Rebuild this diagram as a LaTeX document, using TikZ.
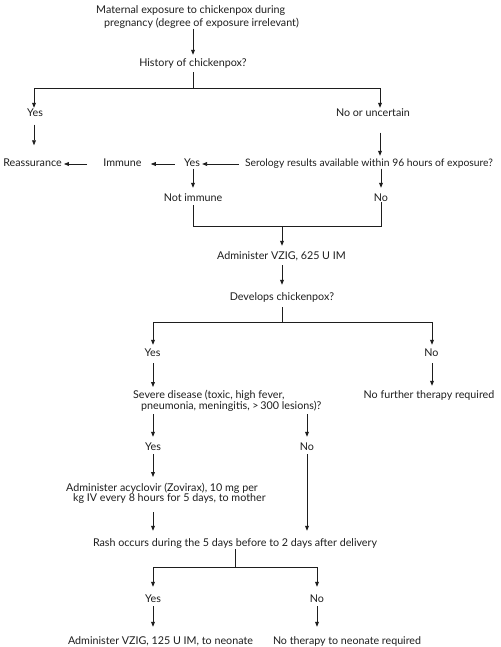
\documentclass[tikz,border=0pt]{standalone}
\usepackage{fontspec}
\setmainfont{Lato}
\usetikzlibrary{arrows.meta}
\definecolor{ink}{HTML}{1E1E1E}
\newlength\fitlen
\newcommand\fitsize[2]{\settowidth\fitlen{\fontsize{10}{12}\selectfont #2}\pgfmathsetmacro\fitsz{10*#1/\fitlen}\fontsize{\fitsz}{\fitsz}\selectfont}
\newcommand\fitto[2]{\fitsize{#1}{#2}#2}
\begin{document}
\settowidth\fitlen{\fontsize{10}{12}\selectfont Rash occurs during the 5 days before to 2 days after delivery}%
\pgfmathsetmacro\basesz{10*284/\fitlen}%
\begin{tikzpicture}[x=1pt,y=-1pt,
 lbl/.style={inner sep=0pt, font=\fontsize{\basesz}{\basesz}\selectfont, text=ink},
 one/.style={lbl, text height=7pt, text depth=2pt},
 arr/.style={draw=ink, line width=0.8pt, -{Triangle[length=5pt,width=3.8pt]}},
 ln/.style={draw=ink, line width=0.8pt}]
\useasboundingbox (0,0) rectangle (500,647);
\fill[white] (0,0) rectangle (500,647);
% nodes
\node[lbl, align=left, anchor=north west] (m1) at (96,5) {Maternal exposure to chickenpox during\\[3pt]\hspace*{8pt}pregnancy (degree of exposure irrelevant)};
\node[one] (hist) at (193,64) {History of chickenpox?};
\node[one] (yes1) at (35,114) {Yes};
\node[one] (no1) at (373,114) {No or uncertain};
\node[one] (ser) at (369,164) {\fitto{248}{Serology results available within 96 hours of exposure?}};
\node[one] (yes2) at (192,164) {Yes};
\node[one] (imm) at (122.5,164) {Immune};
\node[one] (reas) at (32.5,164) {Reassurance};
\node[one] (notimm) at (193,199) {Not immune};
\node[one] (no2) at (381,199) {No};
\node[one] (vzig1) at (281.5,257) {Administer VZIG, 625 U IM};
\node[one] (dev) at (282,298) {Develops chickenpox?};
\node[one] (yes3) at (152.5,354) {Yes};
\node[one] (no3) at (431.5,354) {No};
\node[lbl, align=left, anchor=north west] (sev) at (133,390) {Severe disease (toxic, high fever,\\[0pt]\hspace*{8pt}pneumonia, meningitis, >\,300 lesions)?};
\node[one] (nofur) at (429,396) {No further therapy required};
\node[one] (yes4) at (153,448) {Yes};
\node[one] (no4) at (307,448) {No};
\node[lbl, align=left, anchor=north west] (acy) at (66,483) {Administer acyclovir (Zovirax), 10 mg per\\[-1pt]\hspace*{7pt}kg IV every 8 hours for 5 days, to mother};
\node[one] (rash) at (235,544) {Rash occurs during the 5 days before to 2 days after delivery};
\node[one] (yes5) at (153,600) {Yes};
\node[one] (no5) at (317,600) {No};
\node[one] (vzig2) at (160.5,642) {\fitto{185}{Administer VZIG, 125 U IM, to neonate}};
\node[one] (nother) at (347,642) {\fitto{148}{No therapy to neonate required}};
% branch coordinates
\coordinate (b1) at (193,88);
\coordinate (b1l) at (34,88);
\coordinate (b1r) at (380,88);
\coordinate (j1) at (282,226);
\coordinate (b2) at (282,322);
\coordinate (b2l) at (153,322);
\coordinate (b2r) at (432,322);
\coordinate (b3) at (235,567);
\coordinate (b3l) at (153,567);
\coordinate (b3r) at (317,567);
% connectors
\draw[arr, shorten >=4.5pt] (hist |- m1.south) -- (hist.north);
\draw[ln, shorten <=3.5pt] (hist.south) -- (b1);
\draw[arr, shorten >=1.5pt] (b1) -- (b1l) -- (b1l |- yes1.north);
\draw[arr, shorten >=1.5pt] (b1) -- (b1r) -- (b1r |- no1.north);
\draw[arr, shorten <=6pt, shorten >=14pt] (b1l |- yes1.south) -- (b1l |- reas.north);
\draw[arr, shorten <=14pt, shorten >=3.5pt] (b1r |- no1.south) -- (b1r |- ser.north);
\draw[arr, shorten <=6pt, shorten >=2pt] (ser.west) -- (yes2.east);
\draw[arr, shorten <=9pt, shorten >=9pt] (yes2.west) -- (imm.east);
\draw[arr, shorten <=16pt, shorten >=2pt] (imm.west) -- (reas.east);
\draw[arr, shorten >=6.5pt] (yes2.south -| notimm) -- (notimm.north);
\draw[arr, shorten >=6.5pt] (ser.south -| no2) -- (no2.north);
\draw[ln, shorten <=1.5pt] (notimm.south) -- (notimm.south |- j1) -- (no2.south |- j1) -- ([yshift=1.5pt]no2.south);
\draw[arr, shorten >=6.5pt] (j1) -- (j1 |- vzig1.north);
\draw[arr, shorten <=3.5pt, shorten >=8.5pt] (vzig1.south -| j1) -- (j1 |- dev.north);
\draw[ln, shorten <=4.5pt] (dev.south -| b2) -- (b2);
\draw[arr, shorten >=4.5pt] (b2) -- (b2l) -- (b2l |- yes3.north);
\draw[arr, shorten >=4.5pt] (b2) -- (b2r) -- (b2r |- no3.north);
\draw[arr, shorten <=4.5pt, shorten >=3pt] (b2l |- yes3.south) -- (b2l |- sev.north);
\draw[arr, shorten <=4.5pt, shorten >=5.5pt] (b2r |- no3.south) -- (b2r |- nofur.north);
\draw[arr, shorten <=3pt, shorten >=6.5pt] (yes4 |- sev.south) -- (yes4.north);
\draw[arr, shorten <=3pt, shorten >=6.5pt] (no4 |- sev.south) -- (no4.north);
\draw[arr, shorten <=1.5pt, shorten >=6pt] (yes4.south) -- (yes4 |- acy.north);
\draw[arr, shorten <=1.5pt, shorten >=8.5pt] (no4.south) -- (no4 |- rash.north);
\draw[arr, shorten <=9pt, shorten >=8.5pt] (yes4 |- acy.south) -- (yes4 |- rash.north);
\draw[ln, shorten <=0.5pt] (rash.south -| b3) -- (b3);
\draw[arr, shorten >=8.5pt] (b3) -- (b3l) -- (b3l |- yes5.north);
\draw[arr, shorten >=8.5pt] (b3) -- (b3r) -- (b3r |- no5.north);
\draw[arr, shorten <=1.5pt, shorten >=10.5pt] (yes5.south) -- (yes5.south |- vzig2.north);
\draw[arr, shorten <=1.5pt, shorten >=10.5pt] (no5.south) -- (no5.south |- nother.north);
\end{tikzpicture}
\end{document}
